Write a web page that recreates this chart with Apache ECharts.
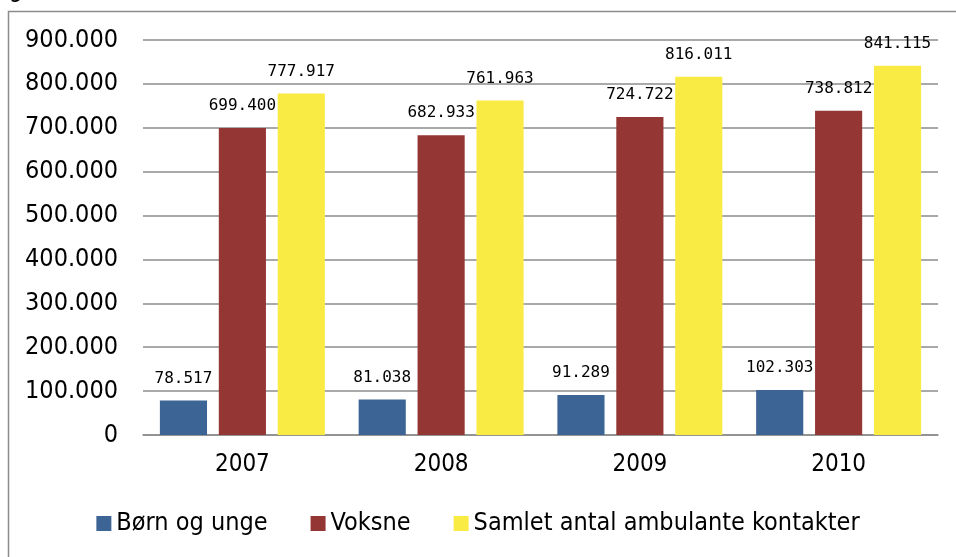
<!DOCTYPE html>
<html><head><meta charset="utf-8">
<script src="https://cdn.jsdelivr.net/npm/echarts@6/dist/echarts.min.js"></script>
<style>html,body{margin:0;padding:0;background:#fff}#c{width:956px;height:557px}</style>
</head><body><div id="c"></div>
<script>
const categories = ['2007', '2008', '2009', '2010'];
const seriesNames = ['Børn og unge', 'Voksne', 'Samlet antal ambulante kontakter'];
const bornOgUnge = [78517, 81038, 91289, 102303];
const voksne = [699400, 682933, 724722, 738812];
const samlet = [777917, 761963, 816011, 841115];
const colors = ['#3C6494', '#943634', '#FAEA44'];

function fmt(v) {
  return String(v).replace(/\B(?=(\d{3})+(?!\d))/g, '.');
}
const axisFont = 'DejaVu Sans Condensed, DejaVu Sans, sans-serif';
const chart = echarts.init(document.getElementById('c'));
function mk(name, data, color) {
  return {
    name: name, type: 'bar', data: data,
    barGap: '25%', barCategoryGap: '17%',
    itemStyle: { color: color },
    label: {
      show: true, position: 'top', distance: 14,
      color: '#000', fontSize: 16, fontFamily: 'DejaVu Sans Mono, monospace',
      formatter: p => fmt(p.value)
    }
  };
}
chart.setOption({
  animation: false,
  color: colors,
  graphic: [
    { type: 'rect', shape: { x: 8.5, y: 11.5, width: 1200, height: 800 },
      style: { fill: 'none', stroke: '#8c8c8c', lineWidth: 1.5 }, z: 0 },
    { type: 'text', left: 9, top: -21, style: { text: 'g', font: '24px ' + axisFont, fill: '#000' } }
  ],
  grid: { left: 143, right: 18, top: 40, bottom: 122, containLabel: false },
  legend: {
    bottom: 16, left: 'center',
    itemWidth: 15, itemHeight: 15, itemGap: 43,
    icon: 'rect',
    textStyle: { fontSize: 25, fontFamily: axisFont, color: '#000', padding: [0, 0, 0, 0] },
    data: seriesNames
  },
  xAxis: {
    type: 'category', data: categories,
    axisLine: { lineStyle: { color: '#8c8c8c', width: 1.5 } },
    axisTick: { show: false },
    axisLabel: { color: '#000', fontSize: 24, fontFamily: axisFont, margin: 18 }
  },
  yAxis: {
    type: 'value', min: 0, max: 900000, interval: 100000,
    axisLine: { show: false }, axisTick: { show: false },
    splitLine: { lineStyle: { color: '#8c8c8c', width: 1.5 } },
    axisLabel: { color: '#000', fontSize: 25, fontFamily: axisFont, margin: 25, formatter: v => fmt(v) }
  },
  series: [
    mk(seriesNames[0], bornOgUnge, colors[0]),
    mk(seriesNames[1], voksne, colors[1]),
    mk(seriesNames[2], samlet, colors[2])
  ]
});
</script></body></html>
